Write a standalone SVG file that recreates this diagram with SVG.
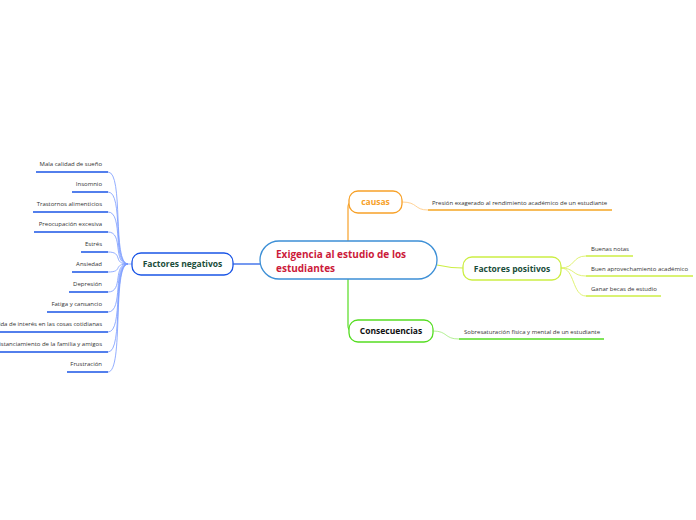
<svg xmlns="http://www.w3.org/2000/svg" width="696" height="520" viewBox="0 0 696 520">
<style>
text{font-family:"Open Sans","Noto Sans","Liberation Sans",sans-serif}
.leaf{font-size:6px;fill:#333}
.lr{text-anchor:end}
.node{fill:#fff;stroke-width:1.3}
.nt{font-size:8.5px;font-weight:bold;text-anchor:middle}
.c{fill:none}
</style>
<rect width="696" height="520" fill="#fff"/>
<g id="connectors" class="c">
  <path d="M260,264 L233,264" stroke="#1a55e6" stroke-width="1.2"/>
  <path d="M348,241 L348,207 Q348,202 353,202" stroke="#f7a128" stroke-width="1.2"/>
  <path d="M348,279 L348,326 Q348,331 353,331" stroke="#55dd22" stroke-width="1.2"/>
  <path d="M437,265 Q450,268 463,268" stroke="#ccee44" stroke-width="1.2"/>
  <path d="M402,202 C418,202 414,210 428,210" stroke="#ffcc88" stroke-width="0.9"/>
  <path d="M433,331 C448,331 444,339 459,339" stroke="#aaee88" stroke-width="0.9"/>
  <g stroke="#ddf066" stroke-width="0.9">
    <path d="M561,268 C575,268 572,256 586,256"/>
    <path d="M561,268 C575,268 572,276 586,276"/>
    <path d="M561,268 C575,268 572,296 586,296"/>
  </g>
  <g stroke="#7799ff" stroke-width="0.8">
    <path d="M132,264 L128,264 C112,264 124,172 108,172"/>
    <path d="M128,264 C112,264 124,192 108,192"/>
    <path d="M128,264 C112,264 124,212 108,212"/>
    <path d="M128,264 C112,264 124,232 108,232"/>
    <path d="M128,264 C112,264 124,252 108,252"/>
    <path d="M128,264 C112,264 124,272 108,272"/>
    <path d="M128,264 C112,264 124,292 108,292"/>
    <path d="M128,264 C112,264 124,312 108,312"/>
    <path d="M128,264 C112,264 124,332 108,332"/>
    <path d="M128,264 C112,264 124,352 108,352"/>
    <path d="M128,264 C112,264 124,372 108,372"/>
  </g>
</g>
<g id="central">
  <rect class="node" x="260" y="241" width="177" height="38" rx="19" stroke="#3c8fd6"/>
  <text x="276" y="258" font-size="10px" font-weight="bold" fill="#cc1a3a">Exigencia al estudio de los</text>
  <text x="276" y="272" font-size="10px" font-weight="bold" fill="#cc1a3a">estudiantes</text>
</g>
<g id="causas">
  <rect class="node" x="349" y="191" width="53" height="22" rx="9" stroke="#f7a128"/>
  <text class="nt" x="375.5" y="205" fill="#f7a128">causas</text>
</g>
<g id="consecuencias">
  <rect class="node" x="349" y="320" width="84" height="22" rx="9" stroke="#55dd22"/>
  <text class="nt" x="391" y="334" fill="#111">Consecuencias</text>
</g>
<g id="positivos">
  <rect class="node" x="463" y="257" width="98" height="23" rx="9" stroke="#ccee44"/>
  <text class="nt" x="512" y="271.5" fill="#1a4d3a">Factores positivos</text>
</g>
<g id="negativos">
  <rect class="node" x="132" y="253" width="101" height="22" rx="9" stroke="#1a55e6"/>
  <text class="nt" x="182.5" y="267" fill="#1a4d3a">Factores negativos</text>
</g>
<g id="leaf-presion">
  <text class="leaf" x="432" y="205">Presión exagerado al rendimiento académico de un estudiante</text>
  <path d="M428,210 L612,210" stroke="#f5a623" stroke-width="1.5"/>
</g>
<g id="leaf-buenas">
  <text class="leaf" x="591" y="251">Buenas notas</text>
  <path d="M586,256 L633,256" stroke="#ccee44" stroke-width="1.5"/>
</g>
<g id="leaf-aprovechamiento">
  <text class="leaf" x="591" y="271">Buen aprovechamiento académico</text>
  <path d="M586,276 L693,276" stroke="#ccee44" stroke-width="1.5"/>
</g>
<g id="leaf-becas">
  <text class="leaf" x="591" y="291">Ganar becas de estudio</text>
  <path d="M586,296 L661,296" stroke="#ccee44" stroke-width="1.5"/>
</g>
<g id="leaf-sobresaturacion">
  <text class="leaf" x="464" y="334">Sobresaturación física y mental de un estudiante</text>
  <path d="M459,339 L604,339" stroke="#55dd22" stroke-width="1.5"/>
</g>
<g id="leaf-sueno"><text class="leaf lr" x="102" y="166">Mala calidad de sueño</text><path d="M36,172 L108,172" stroke="#1a55e6" stroke-width="1.5"/></g>
<g id="leaf-insomnio"><text class="leaf lr" x="102" y="186">Insomnio</text><path d="M72,192 L108,192" stroke="#1a55e6" stroke-width="1.5"/></g>
<g id="leaf-trastornos"><text class="leaf lr" x="102" y="206">Trastornos alimenticios</text><path d="M33,212 L108,212" stroke="#1a55e6" stroke-width="1.5"/></g>
<g id="leaf-preocupacion"><text class="leaf lr" x="102" y="226">Preocupación excesiva</text><path d="M34,232 L108,232" stroke="#1a55e6" stroke-width="1.5"/></g>
<g id="leaf-estres"><text class="leaf lr" x="102" y="246">Estrés</text><path d="M81,252 L108,252" stroke="#1a55e6" stroke-width="1.5"/></g>
<g id="leaf-ansiedad"><text class="leaf lr" x="102" y="266">Ansiedad</text><path d="M72,272 L108,272" stroke="#1a55e6" stroke-width="1.5"/></g>
<g id="leaf-depresion"><text class="leaf lr" x="102" y="286">Depresión</text><path d="M69,292 L108,292" stroke="#1a55e6" stroke-width="1.5"/></g>
<g id="leaf-fatiga"><text class="leaf lr" x="102" y="306">Fatiga y cansancio</text><path d="M47,312 L108,312" stroke="#1a55e6" stroke-width="1.5"/></g>
<g id="leaf-perdida"><text class="leaf lr" x="102" y="326">Pérdida de interés en las cosas cotidianas</text><path d="M0,332 L108,332" stroke="#1a55e6" stroke-width="1.5"/></g>
<g id="leaf-distanciamiento"><text class="leaf lr" x="102" y="346">Distanciamiento de la familia y amigos</text><path d="M0,352 L108,352" stroke="#1a55e6" stroke-width="1.5"/></g>
<g id="leaf-frustracion"><text class="leaf lr" x="102" y="366">Frustración</text><path d="M67,372 L108,372" stroke="#1a55e6" stroke-width="1.5"/></g>
</svg>
